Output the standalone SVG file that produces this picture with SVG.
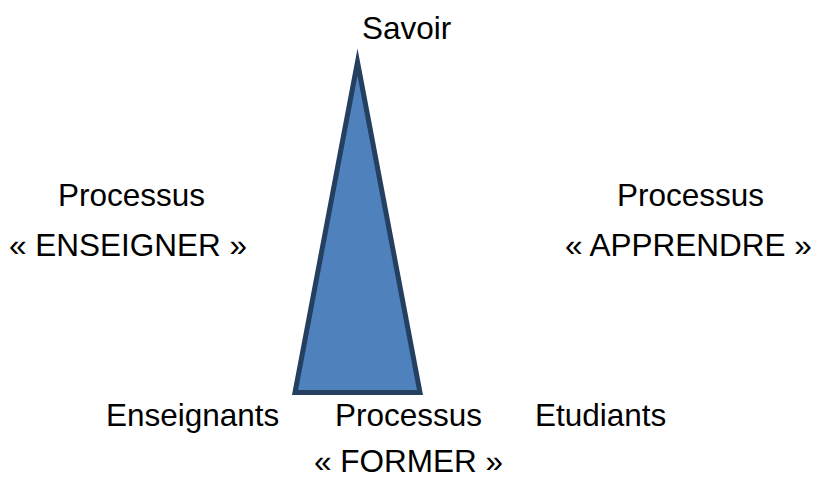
<svg xmlns="http://www.w3.org/2000/svg" width="814" height="479" viewBox="0 0 814 479">
<style>
text{font-family:"Liberation Sans",Arial,sans-serif;font-size:31.5px;fill:#000}
.tri{fill:#4F81BD;stroke:#243F60;stroke-width:5;stroke-linejoin:miter;stroke-miterlimit:20}
</style>
<rect width="814" height="479" fill="#fff"/>
<g id="triangle"><polygon class="tri" points="357.5,62 295,392.5 420,392.5"/></g>
<g id="savoir"><text x="362" y="39">Savoir</text></g>
<g id="enseigner"><text x="58" y="206">Processus</text><text x="9" y="256">« ENSEIGNER »</text></g>
<g id="apprendre"><text x="617" y="206">Processus</text><text x="565" y="256">« APPRENDRE »</text></g>
<g id="enseignants"><text x="106" y="426">Enseignants</text></g>
<g id="former"><text x="335" y="426">Processus</text><text x="314" y="472">« FORMER »</text></g>
<g id="etudiants"><text x="535" y="426">Etudiants</text></g>
</svg>
